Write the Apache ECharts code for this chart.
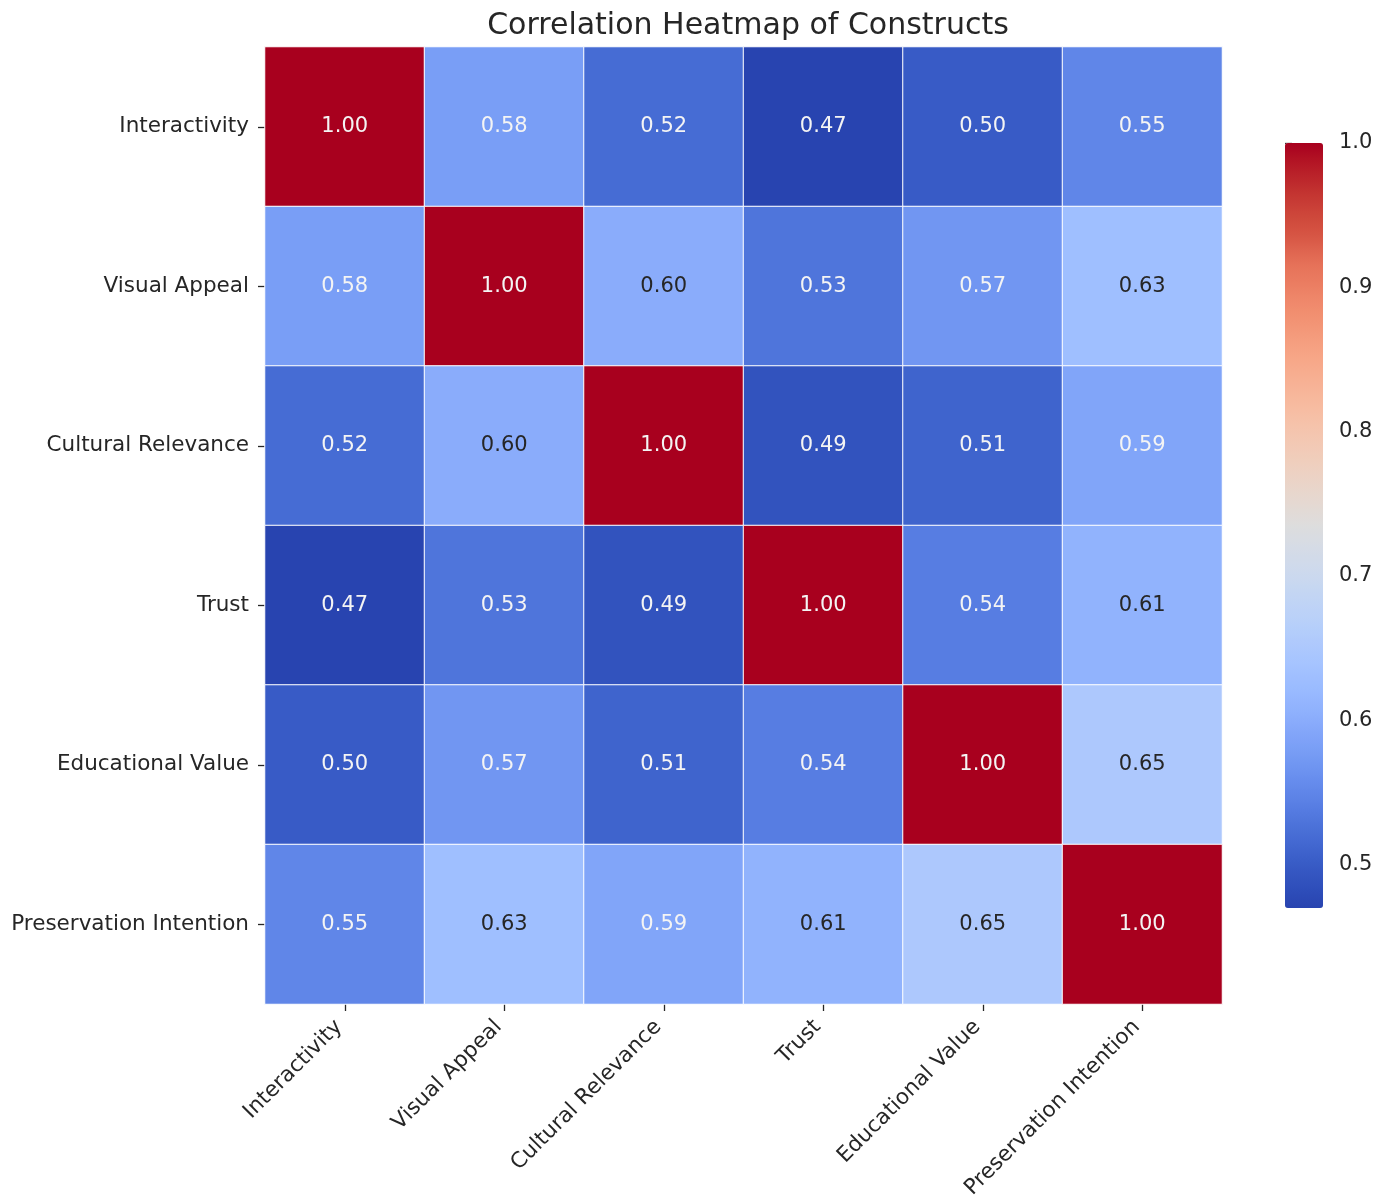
<!DOCTYPE html>
<html>
<head>
<meta charset="utf-8">
<script src="https://cdn.jsdelivr.net/npm/echarts@6/dist/echarts.min.js"></script>
<style>
  html, body { margin: 0; padding: 0; background: #fff; }
  #chart { width: 1390px; height: 1199px; }
</style>
</head>
<body>
<div id="chart"></div>
<script>
// Constructs (rows top-to-bottom, columns left-to-right)
const constructs = [
  'Interactivity', 'Visual Appeal', 'Cultural Relevance',
  'Trust', 'Educational Value', 'Preservation Intention'
];

// Correlation matrix rows
const rowInteractivity = [1.00, 0.58, 0.52, 0.47, 0.50, 0.55];
const rowVisualAppeal = [0.58, 1.00, 0.60, 0.53, 0.57, 0.63];
const rowCulturalRelevance = [0.52, 0.60, 1.00, 0.49, 0.51, 0.59];
const rowTrust = [0.47, 0.53, 0.49, 1.00, 0.54, 0.61];
const rowEducationalValue = [0.50, 0.57, 0.51, 0.54, 1.00, 0.65];
const rowPreservationIntention = [0.55, 0.63, 0.59, 0.61, 0.65, 1.00];

// Colour scale limits and colourbar ticks
const scaleMin = 0.47;
const scaleMax = 1.00;
const colorbarTicks = [0.5, 0.6, 0.7, 0.8, 0.9, 1.0];

const rows = [
  rowInteractivity, rowVisualAppeal, rowCulturalRelevance,
  rowTrust, rowEducationalValue, rowPreservationIntention
];

// Diverging blue-white-red ramp, 33 evenly spaced stops (deep ends)
const coolwarm = [
  [40,68,176],[48,80,188],[58,94,200],[70,108,212],[84,122,224],[98,136,234],
  [112,150,242],[126,162,248],[140,174,252],[152,185,255],[163,194,255],[174,201,253],
  [184,208,249],[194,213,244],[204,217,238],[213,219,230],[221,221,221],[229,216,209],
  [236,211,197],[241,204,185],[245,196,173],[247,187,160],[247,177,148],[247,166,135],
  [244,154,123],[241,141,111],[236,127,99],[229,112,88],[216,88,70],[205,70,58],
  [194,50,48],[182,26,38],[168,0,30]
];
const rampColors = coolwarm.map(c => 'rgb(' + c.join(',') + ')');

function rampAt(v) {
  let t = (v - scaleMin) / (scaleMax - scaleMin);
  t = Math.max(0, Math.min(1, t));
  const pos = t * (coolwarm.length - 1);
  const i = Math.min(Math.floor(pos), coolwarm.length - 2);
  const f = pos - i;
  return coolwarm[i].map((c, k) => c + (coolwarm[i + 1][k] - c) * f);
}

// Pick dark or light annotation text from the cell colour's luminance
function textColorFor(v) {
  const lin = rampAt(v).map(c => {
    const s = c / 255;
    return s <= 0.03928 ? s / 12.92 : Math.pow((s + 0.055) / 1.055, 2.4);
  });
  const lum = 0.2126 * lin[0] + 0.7152 * lin[1] + 0.0722 * lin[2];
  return lum > 0.408 ? '#262626' : '#f4f4f4';
}

const cells = [];
rows.forEach((row, r) => {
  row.forEach((v, c) => {
    cells.push({ value: [c, r, v], label: { color: textColorFor(v) } });
  });
});

const font = 'DejaVu Sans, Verdana, sans-serif';
const textColor = '#262626';

const chart = echarts.init(document.getElementById('chart'), null, { renderer: 'canvas' });

chart.setOption({
  backgroundColor: '#ffffff',
  animation: false,
  textStyle: { fontFamily: font },
  title: {
    text: 'Correlation Heatmap of Constructs',
    left: 743,
    top: 6,
    textAlign: 'center',
    textStyle: { fontFamily: font, fontSize: 30, fontWeight: 'normal', color: textColor }
  },
  grid: [
    { left: 265, top: 47, width: 957, height: 957, outerBoundsMode: 'none', containLabel: false },
    { left: 1285, top: 143, width: 38, height: 765, outerBoundsMode: 'none', containLabel: false }
  ],
  xAxis: [
    {
      gridIndex: 0,
      type: 'category',
      data: constructs,
      position: 'bottom',
      axisLine: { show: false },
      axisTick: { show: true, alignWithLabel: true, length: 7, lineStyle: { color: textColor, width: 1.3 } },
      axisLabel: {
        rotate: 45, margin: 14, interval: 0, padding: [0, 8, 0, 0],
        fontFamily: font, fontSize: 21.5, color: textColor
      },
      splitLine: { show: false }
    },
    {
      gridIndex: 1,
      type: 'value',
      show: false,
      min: 0, max: 1
    }
  ],
  yAxis: [
    {
      gridIndex: 0,
      type: 'category',
      data: constructs,
      inverse: true,
      axisLine: { show: false },
      axisTick: { show: true, alignWithLabel: true, length: 7, lineStyle: { color: textColor, width: 1.3 } },
      axisLabel: { margin: 16, interval: 0, fontFamily: font, fontSize: 21.5, color: textColor },
      splitLine: { show: false }
    },
    {
      gridIndex: 1,
      type: 'value',
      position: 'right',
      min: scaleMin,
      max: scaleMax,
      axisLine: { show: false },
      axisTick: {
        show: true, length: 7, customValues: colorbarTicks,
        lineStyle: { color: textColor, width: 1.3 }
      },
      axisLabel: {
        margin: 16, customValues: colorbarTicks,
        fontFamily: font, fontSize: 21, color: textColor,
        formatter: v => v.toFixed(1)
      },
      splitLine: { show: false }
    }
  ],
  visualMap: {
    type: 'continuous',
    seriesIndex: 0,
    min: scaleMin,
    max: scaleMax,
    calculable: false,
    hoverLink: false,
    orient: 'vertical',
    left: 1285,
    top: 143,
    itemWidth: 38,
    itemHeight: 765,
    padding: 0,
    text: null,
    showLabel: false,
    inRange: { color: rampColors }
  },
  series: [
    {
      type: 'heatmap',
      xAxisIndex: 0,
      yAxisIndex: 0,
      data: cells,
      itemStyle: { borderColor: '#ffffff', borderWidth: 1 },
      label: {
        show: true,
        fontFamily: font,
        fontSize: 21,
        formatter: p => p.value[2].toFixed(2)
      },
      emphasis: { disabled: true }
    },
    {
      type: 'line',
      xAxisIndex: 1,
      yAxisIndex: 1,
      data: [],
      silent: true
    }
  ]
});
</script>
</body>
</html>
